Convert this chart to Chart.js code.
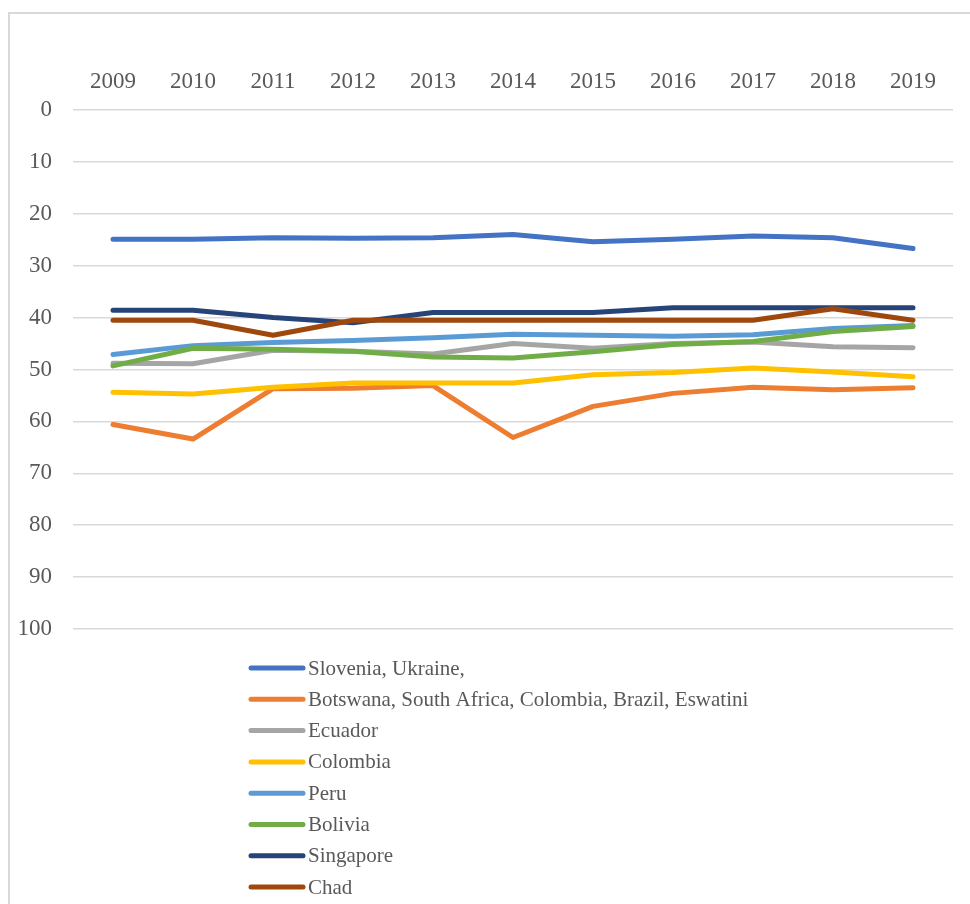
<!DOCTYPE html>
<html>
<head>
<meta charset="utf-8">
<script src="https://cdn.jsdelivr.net/npm/chart.js@4.4.0/dist/chart.umd.min.js"></script>
<style>
  html, body { margin: 0; padding: 0; background: #fff; }
  #frame { position: absolute; left: 8px; top: 12px; width: 1000px; height: 920px; border: 2px solid #d9d9d9; box-sizing: border-box; }
  #chartDiv { position: absolute; left: 0; top: 0; width: 970px; height: 904px; }
</style>
</head>
<body>
<div id="frame"></div>
<div id="chartDiv"><canvas id="myChart"></canvas></div>
<script>
const years = ['2009', '2010', '2011', '2012', '2013', '2014', '2015', '2016', '2017', '2018', '2019'];

const slovenia = [24.9, 24.9, 24.6, 24.7, 24.6, 24.0, 25.4, 24.9, 24.3, 24.6, 26.7];
const botswana = [60.6, 63.4, 53.7, 53.6, 53.1, 63.1, 57.1, 54.6, 53.4, 53.9, 53.5];
const ecuador = [48.8, 48.9, 46.3, 46.5, 47.0, 45.0, 45.9, 45.0, 44.7, 45.6, 45.8];
const colombia = [54.4, 54.7, 53.4, 52.6, 52.6, 52.6, 51.0, 50.6, 49.7, 50.5, 51.4];
const peru = [47.1, 45.4, 44.8, 44.4, 43.9, 43.2, 43.4, 43.6, 43.3, 42.1, 41.5];
const bolivia = [49.3, 45.9, 46.1, 46.5, 47.6, 47.8, 46.6, 45.2, 44.6, 42.7, 41.7];
const singapore = [38.6, 38.6, 40.0, 41.0, 39.0, 39.0, 39.0, 38.1, 38.1, 38.1, 38.1];
const chad = [40.5, 40.5, 43.4, 40.5, 40.5, 40.5, 40.5, 40.5, 40.5, 38.3, 40.5];

const seriesNames = ['Slovenia, Ukraine,', 'Botswana, South Africa, Colombia, Brazil, Eswatini', 'Ecuador', 'Colombia', 'Peru', 'Bolivia', 'Singapore', 'Chad'];
const seriesValues = [slovenia, botswana, ecuador, colombia, peru, bolivia, singapore, chad];
const seriesColors = ['#4472C4', '#ED7D31', '#A5A5A5', '#FFC000', '#5B9BD5', '#70AD47', '#264478', '#9E480E'];

const textColor = '#595959';
const fontFamily = "'Liberation Serif', 'Times New Roman', serif";

var ctx = document.getElementById('myChart');

// legend is one column under the plot, so draw it by hand
const columnLegend = {
  id: 'columnLegend',
  afterDraw(chart) {
    const c = chart.ctx;
    c.save();
    c.font = '21px ' + fontFamily;
    c.textBaseline = 'middle';
    c.lineCap = 'round';
    chart.data.datasets.forEach((ds, i) => {
      const y = 668 + i * 31.3;
      c.strokeStyle = ds.borderColor;
      c.lineWidth = 5;
      c.beginPath();
      c.moveTo(251, y);
      c.lineTo(303, y);
      c.stroke();
      c.fillStyle = textColor;
      c.fillText(ds.label, 308, y + 1);
    });
    c.restore();
  }
};

var data = seriesNames.map((name, i) => ({
  label: name,
  data: seriesValues[i],
  borderColor: seriesColors[i],
  backgroundColor: seriesColors[i],
  borderWidth: 5,
  borderCapStyle: 'round',
  borderJoinStyle: 'round',
  pointRadius: 0,
  tension: 0,
  order: seriesNames.length - i
}));

var options = {
  responsive: true,
  maintainAspectRatio: false,
  animation: false,
  layout: { padding: { left: 0, right: 17, top: 40, bottom: 275 } },
  plugins: {
    legend: { display: false },
    tooltip: { enabled: false }
  },
  scales: {
    x: {
      position: 'top',
      offset: true,
      grid: { display: false, drawTicks: false },
      border: { display: false },
      ticks: { color: textColor, font: { family: fontFamily, size: 23 }, padding: 14, maxRotation: 0 },
      afterFit: scale => { scale.height = 70; }
    },
    y: {
      reverse: true,
      min: 0,
      max: 100,
      grid: { color: '#d9d9d9', lineWidth: 1.5, drawTicks: false },
      border: { display: false },
      ticks: { stepSize: 10, color: textColor, font: { family: fontFamily, size: 23 }, padding: 21 },
      afterFit: scale => { scale.width = 73; }
    }
  }
};

var StockChart = new Chart(ctx, {
  type: 'line',
  data: { labels: years, datasets: data },
  options: options,
  plugins: [columnLegend]
});
</script>
</body>
</html>
